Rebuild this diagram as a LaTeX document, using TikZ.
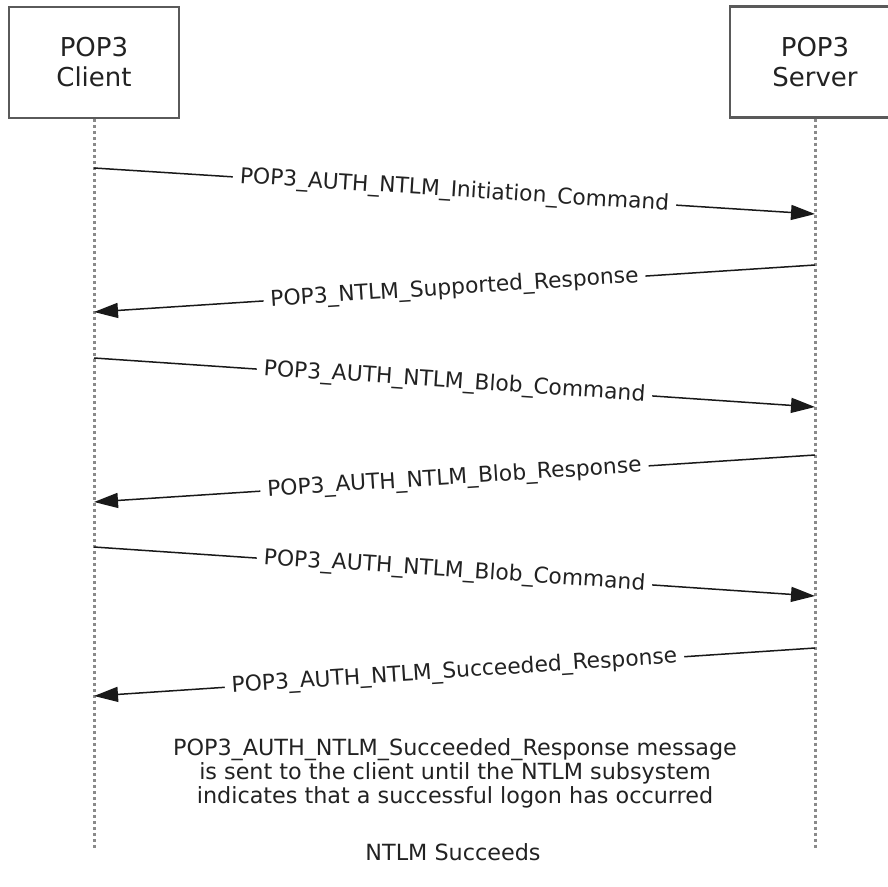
\documentclass[tikz,border=0pt]{standalone}
\usepackage{fontspec}
\setmainfont{DejaVu Sans}
\usetikzlibrary{arrows.meta}
\definecolor{txt}{HTML}{222222}
\definecolor{boxc}{HTML}{5A5A5A}
\definecolor{lifec}{HTML}{8A8A8A}
\begin{document}
\begin{tikzpicture}[x=1pt,y=-1pt,
  actor/.style={draw=boxc, line width=2.4pt, minimum width=170pt, minimum height=111pt, align=center, font=\fontsize{26}{30}\selectfont, text=txt, inner sep=0pt},
  life/.style={draw=lifec, line width=3pt, dash pattern=on 3pt off 3pt},
  msg/.style={draw=black!90, line width=1.5pt, -{Triangle[length=24pt,width=15pt]}},
  lbl/.style={midway, sloped, fill=white, inner xsep=7pt, inner ysep=2pt, font=\fontsize{21.8}{24}\selectfont, text=txt},
  note/.style={align=center, font=\fontsize{22.3}{24}\selectfont, text=txt, inner sep=0pt},
]
\clip (0,0) rectangle (888,886);
\node[actor] (client) at (94,62.5) {POP3\\Client};
\node[actor] (server) at (815,62) {POP3\\Server};
\coordinate (cend) at (94,848);
\coordinate (send) at (815,848);
\draw[life] (client.south) -- (cend);
\draw[life] (server.south) -- (send);

\coordinate (c1) at (94,168);  \coordinate (s1) at (815,214);
\coordinate (s2) at (815,265); \coordinate (c2) at (94,312);
\coordinate (c3) at (94,358);  \coordinate (s3) at (815,407);
\coordinate (s4) at (815,455); \coordinate (c4) at (94,502);
\coordinate (c5) at (94,547);  \coordinate (s5) at (815,596);
\coordinate (s6) at (815,648); \coordinate (c6) at (94,696);

\draw[msg] (c1) -- node[lbl] (m1) {POP3\_AUTH\_NTLM\_Initiation\_Command} (s1);
\draw[msg] (s2) -- node[lbl] (m2) {POP3\_NTLM\_Supported\_Response} (c2);
\draw[msg] (c3) -- node[lbl] (m3) {POP3\_AUTH\_NTLM\_Blob\_Command} (s3);
\draw[msg] (s4) -- node[lbl] (m4) {POP3\_AUTH\_NTLM\_Blob\_Response} (c4);
\draw[msg] (c5) -- node[lbl] (m5) {POP3\_AUTH\_NTLM\_Blob\_Command} (s5);
\draw[msg] (s6) -- node[lbl] (m6) {POP3\_AUTH\_NTLM\_Succeeded\_Response} (c6);

\node[note] (notetext) at (455,773) {POP3\_AUTH\_NTLM\_Succeeded\_Response message\\is sent to the client until the NTLM subsystem\\indicates that a successful logon has occurred};
\node[note] (succ) at (453,852) {NTLM Succeeds};
\end{tikzpicture}
\end{document}
